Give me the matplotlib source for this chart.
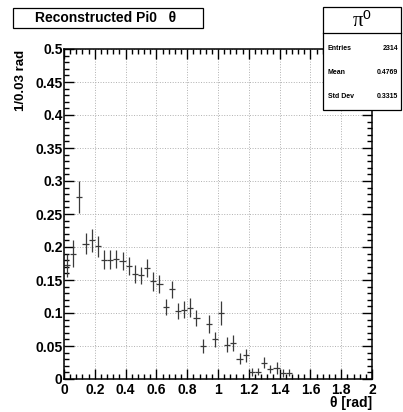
#!/usr/bin/env python3
import matplotlib
matplotlib.use("Agg")
import matplotlib.pyplot as plt
from matplotlib.patches import Rectangle
from matplotlib.ticker import MultipleLocator

# bin centres (0.04 rad bins) and normalised contents
theta = [0.02, 0.06, 0.10, 0.14, 0.18, 0.22, 0.26, 0.30, 0.34, 0.38,
         0.42, 0.46, 0.50, 0.54, 0.58, 0.62, 0.66, 0.70, 0.74, 0.78,
         0.82, 0.86, 0.90, 0.94, 0.98, 1.02, 1.06, 1.10, 1.14, 1.18,
         1.22, 1.26, 1.30, 1.34, 1.38, 1.42, 1.46]
counts = [0.172, 0.190, 0.276, 0.205, 0.210, 0.201, 0.181, 0.181, 0.182, 0.179,
          0.171, 0.159, 0.157, 0.168, 0.148, 0.144, 0.109, 0.136, 0.103, 0.105,
          0.108, 0.092, 0.050, 0.083, 0.060, 0.100, 0.052, 0.055, 0.031, 0.036,
          0.011, 0.011, 0.025, 0.015, 0.017, 0.0095, 0.0095]
errors = [0.017, 0.020, 0.024, 0.016, 0.017, 0.016, 0.014, 0.014, 0.014, 0.014,
          0.014, 0.013, 0.013, 0.014, 0.014, 0.014, 0.012, 0.013, 0.012, 0.013,
          0.014, 0.012, 0.010, 0.014, 0.011, 0.018, 0.011, 0.012, 0.009, 0.010,
          0.006, 0.005, 0.008, 0.006, 0.009, 0.006, 0.005]
bin_half = 0.02

xticks = [0, 0.2, 0.4, 0.6, 0.8, 1, 1.2, 1.4, 1.6, 1.8, 2]
xtick_labels = ['0', '0.2', '0.4', '0.6', '0.8', '1', '1.2', '1.4', '1.6', '1.8', '2']
yticks = [0, 0.05, 0.1, 0.15, 0.2, 0.25, 0.3, 0.35, 0.4, 0.45, 0.5]
ytick_labels = ['0', '0.05', '0.1', '0.15', '0.2', '0.25', '0.3', '0.35', '0.4', '0.45', '0.5']

stat_names = ["Entries", "Mean", "Std Dev"]
stat_values = ["2314", "0.4769", "0.3315"]

plt.rcParams['font.family'] = ['Liberation Sans', 'DejaVu Sans']
plt.rcParams['font.weight'] = 'bold'

W, H = 403, 412
fig = plt.figure(figsize=(W / 100, H / 100), dpi=100)
ax = fig.add_axes([64 / W, 1 - 379 / H, 308 / W, 330 / H])

# histogram drawn ROOT "E" style: vertical error bars + bin width bars
ax.errorbar(theta, counts, yerr=errors, xerr=bin_half, fmt='none',
            ecolor='#3a3a3a', elinewidth=0.9, capsize=0)

ax.set_xlim(0, 2)
ax.set_ylim(0, 0.5)
ax.xaxis.set_minor_locator(MultipleLocator(0.04))
ax.yaxis.set_minor_locator(MultipleLocator(0.01))
ax.set_xticks(xticks)
ax.set_xticklabels(xtick_labels, fontweight='bold')
ax.set_yticks(yticks)
ax.set_yticklabels(ytick_labels, fontweight='bold')
ax.tick_params(which='both', direction='in', top=True, right=True,
               labelsize=10, width=1.0)
ax.tick_params(which='major', length=7)
ax.tick_params(which='minor', length=3.5)
ax.tick_params(axis='x', pad=3)
ax.tick_params(axis='y', pad=1)
ax.grid(True, which='major', linestyle=':', linewidth=0.7, color='#b0b0b0')
ax.set_axisbelow(True)
for s in ax.spines.values():
    s.set_linewidth(1.1)

# axis titles, ROOT puts them at the far end of each axis
fig.text(372 / W, 1 - 403 / H, 'θ [rad]', ha='right', va='center',
         fontsize=10, fontweight='bold')
fig.text(21 / W, 1 - 50 / H, '1/0.03 rad', rotation=90, ha='center', va='top',
         fontsize=9.5, fontweight='bold')

# title box
fig.patches.append(Rectangle((13 / W, 1 - 28 / H), 190 / W, 20 / H,
                             transform=fig.transFigure, facecolor='white',
                             edgecolor='black', linewidth=0.9))
fig.text(106 / W, 1 - 18 / H, 'Reconstructed Pi0   θ', ha='center',
         va='center', fontsize=10, fontweight='bold')

# stats box
x0, x1, y0, y1 = 323, 401, 7, 110
fig.patches.append(Rectangle((x0 / W, 1 - y1 / H), (x1 - x0) / W, (y1 - y0) / H,
                             transform=fig.transFigure, facecolor='white',
                             edgecolor='black', linewidth=0.9, zorder=5))
fig.add_artist(plt.Line2D([x0 / W, x1 / W], [1 - 33 / H, 1 - 33 / H],
                          transform=fig.transFigure, color='black', linewidth=0.9, zorder=6))
fig.text((x0 + x1) / 2 / W, 1 - 21 / H, 'π⁰', ha='center', va='center',
         fontsize=15, fontweight='normal',
         family=['Liberation Serif', 'DejaVu Sans'], zorder=7)
for i, (name, val) in enumerate(zip(stat_names, stat_values)):
    yy = 1 - (48 + 24.5 * i) / H
    fig.text((x0 + 5) / W, yy, name, ha='left', va='center', fontsize=5,
             fontweight='bold', zorder=7)
    fig.text((x1 - 3) / W, yy, val, ha='right', va='center', fontsize=5,
             fontweight='bold', zorder=7)

fig.savefig('out.png', dpi=100)
